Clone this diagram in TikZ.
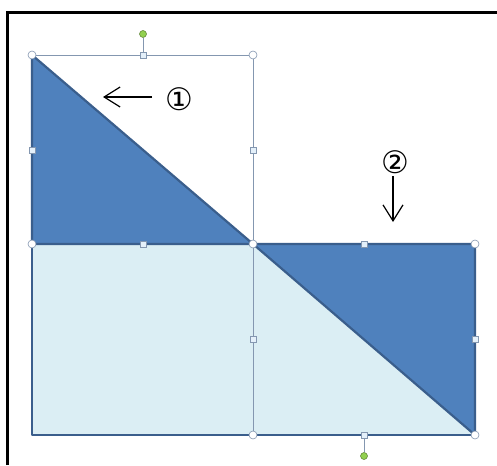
\documentclass[tikz,border=0pt]{standalone}
\usepackage{fontspec}
\newfontfamily\circfont{DejaVu Sans}
\usetikzlibrary{arrows.meta}
\definecolor{darkfill}{HTML}{4F81BD}
\definecolor{lightfill}{HTML}{DBEEF4}
\definecolor{edgeblue}{HTML}{3A5E8C}
\definecolor{selgray}{HTML}{8497B0}
\definecolor{handleblue}{HTML}{E4F0FA}
\definecolor{rotgreen}{HTML}{92D050}
\tikzset{
  handle/.style={circle, draw=selgray, fill=white, inner sep=0pt, minimum size=8pt, line width=0.6pt},
  sidehandle/.style={rectangle, draw=selgray, fill=handleblue, inner sep=0pt, minimum size=6pt, line width=0.6pt},
  rothandle/.style={circle, draw=rotgreen!60!black, fill=rotgreen, inner sep=0pt, minimum size=7pt, line width=0.5pt},
  piece/.style={draw=edgeblue, line width=2.2pt, line join=round},
  selbox/.style={draw=selgray, line width=0.7pt},
  numlabel/.style={font=\circfont\fontsize{31}{31}\selectfont, inner sep=0pt},
}
\begin{document}
\begin{tikzpicture}[x=1pt, y=-1pt, >={Straight Barb[length=16pt, width=20pt]}]
\useasboundingbox (0,0) rectangle (497,465);
\fill[white] (0,0) rectangle (497,465);
\draw[line width=3pt] (7,465) -- (7,13) -- (497,13);
% corners of the two pieces
\coordinate (tl) at (32,55);
\coordinate (tc) at (253,55);
\coordinate (ml) at (32,244);
\coordinate (mc) at (253,244);
\coordinate (mr) at (475,244);
\coordinate (bl) at (32,435);
\coordinate (bc) at (253,435);
\coordinate (br) at (475,435);
% shapes
\fill[lightfill] (ml) rectangle (br);
\filldraw[piece, fill=darkfill] (tl) -- (ml) -- (mc) -- cycle;
\filldraw[piece, fill=darkfill] (mc) -- (mr) -- (br) -- cycle;
\draw[piece] (ml) rectangle (br);
% selection frames
\draw[selbox] (tl) -- (tc) -- (bc);
\node[sidehandle] (s1) at (143,55) {};
\node[sidehandle] (s2) at (32,150) {};
\node[sidehandle] (s3) at (253,150) {};
\node[sidehandle] (s4) at (143,244) {};
\node[sidehandle] (s5) at (253,339) {};
\node[sidehandle] (s6) at (364,244) {};
\node[sidehandle] (s7) at (475,339) {};
\node[sidehandle] (s8) at (364,435) {};
\node[handle] (c1) at (tl) {};
\node[handle] (c2) at (tc) {};
\node[handle] (c3) at (ml) {};
\node[handle] (c4) at (mc) {};
\node[handle] (c5) at (mr) {};
\node[handle] (c6) at (bc) {};
\node[handle] (c7) at (br) {};
\node[rothandle] (r1) at (143,34) {};
\node[rothandle] (r2) at (364,456) {};
\draw[selbox] (r1) -- (s1);
\draw[selbox] (r2) -- (s8);
% labels and arrows
\node[numlabel] (n1) at (179,99) {①};
\node[numlabel] (n2) at (395,162) {②};
\coordinate (tail1) at (152,97);
\coordinate (tip1) at (103,97);
\coordinate (tail2) at (393,176);
\coordinate (tip2) at (393,222);
\draw[->, line width=1.2pt] (tail1) -- (tip1);
\draw[->, line width=1.2pt] (tail2) -- (tip2);
\end{tikzpicture}
\end{document}
